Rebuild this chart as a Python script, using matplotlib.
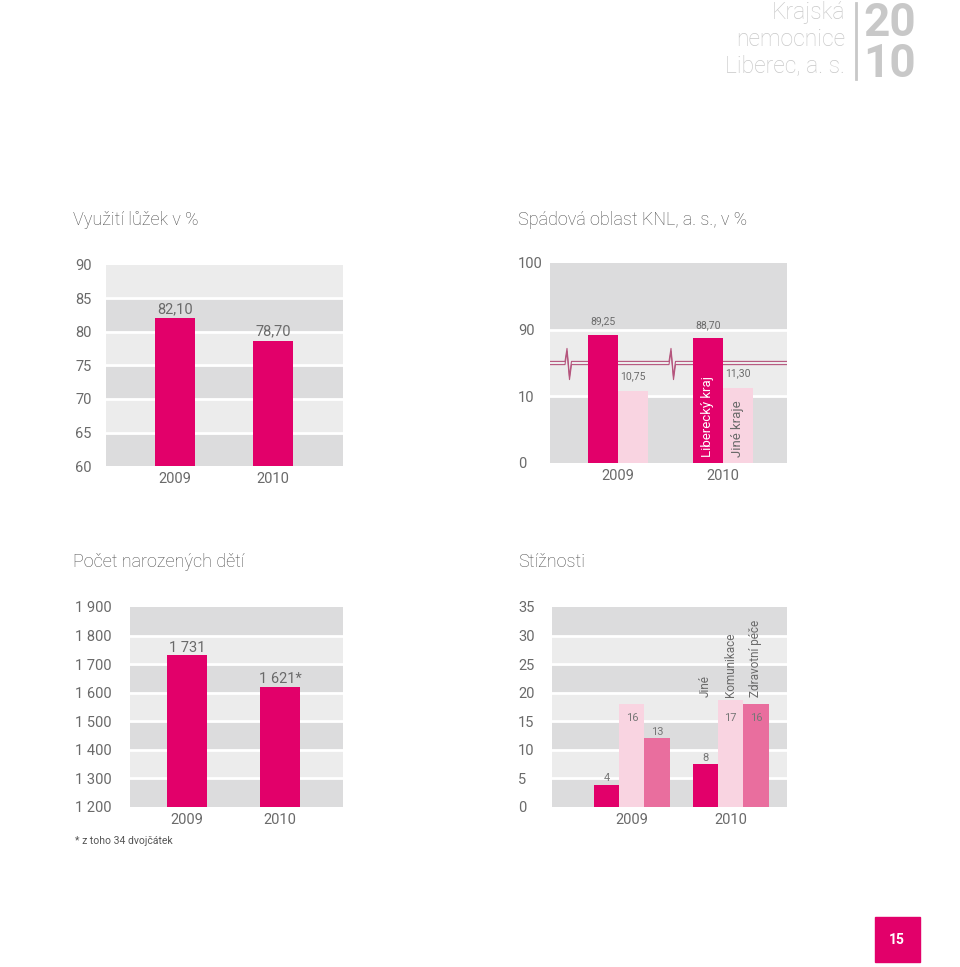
import numpy as np
import matplotlib
matplotlib.use("Agg")
import matplotlib.pyplot as plt

plt.rcParams['font.family'] = ['Roboto', 'DejaVu Sans']

MAGENTA = '#e2006a'
LIGHT_PINK = '#f9d4e1'
MID_PINK = '#e96e9e'
BAND_DARK = '#dcdcdd'
BAND_LIGHT = '#ececec'
TXT = '#6a6a6a'
HEAD = '#c8c8c8'

# --- data ---------------------------------------------------------------
years = ['2009', '2010']

# Využití lůžek v %
beds_values = [82.10, 78.70]
beds_ticks = [60, 65, 70, 75, 80, 85, 90]

# Spádová oblast KNL, a. s., v %
region_names = ['Liberecký kraj', 'Jiné kraje']
region_liberec = [89.25, 88.70]
region_other = [10.75, 11.30]
region_ticks = [0, 10, 90, 100]

# Počet narozených dětí
births_values = [1731, 1621]
births_labels = ['1 731', '1 621*']
births_ticks = [1200, 1300, 1400, 1500, 1600, 1700, 1800, 1900]

# Stížnosti (bar heights as drawn, labels as printed)
compl_names = ['Jiné', 'Komunikace', 'Zdravotní péče']
compl_heights = {'2009': [3.9, 18.0, 12.0], '2010': [7.5, 18.7, 18.0]}
compl_labels = {'2009': ['4', '16', '13'], '2010': ['8', '17', '16']}
compl_ticks = [0, 5, 10, 15, 20, 25, 30, 35]


def fmt_cz(v):
    return ('%.2f' % v).replace('.', ',')


def thousands(v):
    s = '%d' % v
    return s[:-3] + ' ' + s[-3:] if len(s) > 3 else s


def add_bands(ax, edges, first_dark):
    for i in range(len(edges) - 1):
        dark = (i % 2 == 0) == first_dark
        ax.axhspan(edges[i], edges[i + 1], color=BAND_DARK if dark else BAND_LIGHT, lw=0, zorder=0)
    for e in edges[1:-1]:
        ax.axhline(e, color='white', lw=2, zorder=1)


def style_axis(ax, left_px, ticks, ticklabels, xpad=4):
    for s in ax.spines.values():
        s.set_visible(False)
    ax.set_yticks(ticks)
    ax.set_yticklabels(ticklabels)
    ax.tick_params(axis='y', length=0, pad=(left_px - 75 if left_px < 480 else left_px - 518) * 0.72,
                   labelsize=10.5, labelcolor=TXT)
    ax.tick_params(axis='x', length=0, pad=xpad, labelsize=10.5, labelcolor=TXT)
    for lbl in ax.get_yticklabels():
        lbl.set_horizontalalignment('left')


W, H = 960, 967
fig = plt.figure(figsize=(W / 100, H / 100), dpi=100)


def rect(l, r, t, b):
    return [l / W, 1 - b / H, (r - l) / W, (b - t) / H]


# --- header -------------------------------------------------------------
for txt, y in [('Krajská', 19.5), ('nemocnice', 45.5), ('Liberec, a. s.', 72)]:
    fig.text(845 / W, 1 - y / H, txt, ha='right', va='baseline', fontsize=16.5,
             color=HEAD, fontweight='light')
fig.add_artist(plt.Line2D([856 / W, 856 / W], [1 - 3 / H, 1 - 79 / H], color=HEAD, lw=2))
fig.text(863 / W, 1 - 35.5 / H, '20', ha='left', va='baseline', fontsize=33, color=HEAD, fontweight='bold')
fig.text(863 / W, 1 - 77 / H, '10', ha='left', va='baseline', fontsize=33, color=HEAD, fontweight='bold')

# --- titles -------------------------------------------------------------
title_kw = dict(ha='left', va='center', fontsize=13, color='#4d4d4d', fontweight='light')
fig.text(73 / W, 1 - 220 / H, 'Využití lůžek v %', **title_kw)
fig.text(518 / W, 1 - 220 / H, 'Spádová oblast KNL, a. s., v %', **title_kw)
fig.text(73 / W, 1 - 562 / H, 'Počet narozených dětí', **title_kw)
fig.text(518 / W, 1 - 562 / H, 'Stížnosti', **title_kw)

# --- chart 1: Využití lůžek --------------------------------------------
ax1 = fig.add_axes(rect(106, 343, 265, 466))
add_bands(ax1, beds_ticks, first_dark=True)
x1 = np.arange(len(years))
ax1.bar(x1, beds_values, width=0.41, color=MAGENTA, zorder=3)
for xi, v in zip(x1, beds_values):
    ax1.annotate(fmt_cz(v), (xi, v), xytext=(0, 1.5), textcoords='offset points',
                 ha='center', va='bottom', fontsize=10.5, color=TXT)
ax1.set_xlim(-0.704, 1.714)
ax1.set_ylim(60, 90)
ax1.set_xticks(x1)
ax1.set_xticklabels(years)
style_axis(ax1, 106, beds_ticks, [str(t) for t in beds_ticks])

# --- chart 2: Spádová oblast (broken axis) ------------------------------
def fwd(v):
    v = np.asarray(v, dtype=float)
    return np.where(v <= 15, v, np.where(v >= 85, v - 70, 15))


def inv(d):
    d = np.asarray(d, dtype=float)
    return np.where(d <= 15, d, d + 70)


ax2 = fig.add_axes(rect(550, 787, 263, 463))
ax2.set_yscale('function', functions=(fwd, inv))
ax2.set_ylim(0, 100)
add_bands(ax2, region_ticks, first_dark=True)
x2 = np.arange(len(years))
bw2 = 0.286
ax2.bar(x2 - bw2 / 2, region_liberec, width=bw2, color=MAGENTA, zorder=3)
ax2.bar(x2 + bw2 / 2, region_other, width=bw2, color=LIGHT_PINK, zorder=3)
for xi, v in zip(x2 - bw2 / 2, region_liberec):
    ax2.annotate(fmt_cz(v), (xi, v), xytext=(0, 6), textcoords='offset points',
                 ha='center', va='bottom', fontsize=7.5, color=TXT)
for xi, v in zip(x2 + bw2 / 2, region_other):
    ax2.annotate(fmt_cz(v), (xi, v), xytext=(0, 7), textcoords='offset points',
                 ha='center', va='bottom', fontsize=7.5, color=TXT)
ax2.text(x2[1] - bw2 / 2, 0.9, region_names[0], rotation=90, ha='center', va='bottom',
         fontsize=9.5, color='white', zorder=4)
ax2.text(x2[1] + bw2 / 2, 0.9, region_names[1], rotation=90, ha='center', va='bottom',
         fontsize=9.5, color=TXT, zorder=4)
ax2.set_xlim(-0.648, 1.61)
ax2.set_xticks(x2)
ax2.set_xticklabels(years)
style_axis(ax2, 550, region_ticks, [str(t) for t in region_ticks])

# break marks: a double line with two small "pulse" zigzags
px = 1.0 / 237
py = 1.0 / 200
for dy in (-1.6 * py, 1.6 * py):
    xs, ys = [0], [0.5 + dy]
    for xc in (18 * px, 122 * px):
        xs += [xc - 3 * px, xc - 1 * px, xc + 1.5 * px, xc + 3.5 * px]
        ys += [0.5 + dy, 0.5 + dy + 13 * py, 0.5 + dy - 15 * py, 0.5 + dy]
    xs.append(1)
    ys.append(0.5 + dy)
    ax2.plot(xs, ys, transform=ax2.transAxes, color='#b5557d', lw=0.8, zorder=2)

# --- chart 3: Počet narozených dětí -------------------------------------
ax3 = fig.add_axes(rect(130, 343, 607, 807))
add_bands(ax3, births_ticks, first_dark=True)
x3 = np.arange(len(years))
ax3.bar(x3, births_values, width=0.43, color=MAGENTA, zorder=3)
for xi, v, lab in zip(x3, births_values, births_labels):
    ax3.annotate(lab, (xi, v), xytext=(0, 0.5), textcoords='offset points',
                 ha='center', va='bottom', fontsize=10.5, color=TXT)
ax3.set_xlim(-0.613, 1.677)
ax3.set_ylim(1200, 1900)
ax3.set_xticks(x3)
ax3.set_xticklabels(years)
style_axis(ax3, 130, births_ticks, [thousands(t) for t in births_ticks])
fig.text(75 / W, 1 - 841 / H, '* z toho 34 dvojčátek', ha='left', va='center',
         fontsize=7.5, color='#555555')

# --- chart 4: Stížnosti -------------------------------------------------
ax4 = fig.add_axes(rect(552, 787, 607, 807))
add_bands(ax4, compl_ticks, first_dark=True)
bw4 = 0.256
colors4 = [MAGENTA, LIGHT_PINK, MID_PINK]
for gi, yr in enumerate(years):
    for ci in range(len(compl_names)):
        xc = gi + (ci - 1) * bw4
        h = compl_heights[yr][ci]
        ax4.bar(xc, h, width=bw4, color=colors4[ci], zorder=3)
        ly = h + 1.1 if h < 15 else 15.6
        ax4.text(xc, ly, compl_labels[yr][ci], ha='center', va='center', fontsize=8,
                 color='#777777', zorder=4)
for ci, name in enumerate(compl_names):
    ax4.text(1 + (ci - 1) * bw4, 19.3, name, rotation=90, ha='center', va='bottom',
             fontsize=8.5, color=TXT, zorder=4)
ax4.set_xlim(-0.808, 1.571)
ax4.set_ylim(0, 35)
ax4.set_xticks(np.arange(len(years)))
ax4.set_xticklabels(years)
style_axis(ax4, 552, compl_ticks, [str(t) for t in compl_ticks])

# --- page number --------------------------------------------------------
fig.add_artist(plt.Rectangle((875 / W, 1 - 962 / H), 45 / W, 45 / H, color=MAGENTA,
                             transform=fig.transFigure))
fig.text(897 / W, 1 - 940 / H, '15', ha='center', va='center', fontsize=10,
         color='white', fontweight='bold')

fig.savefig('out.png', dpi=100, facecolor='white')
